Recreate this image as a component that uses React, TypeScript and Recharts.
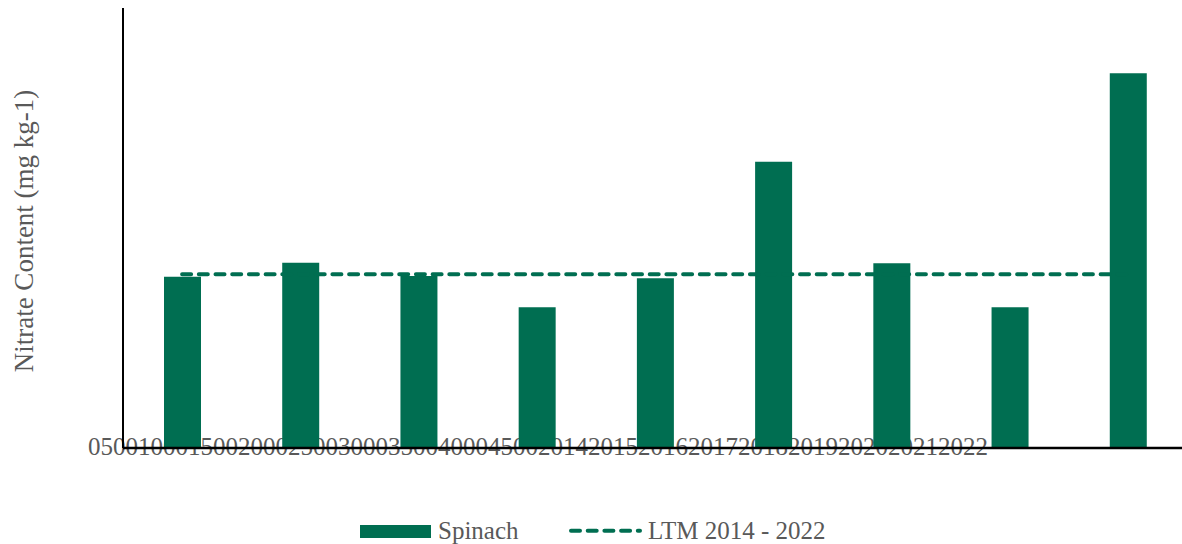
import React from 'react';
import { ComposedChart, Bar, Line, XAxis, YAxis, Customized } from 'recharts';

const years = ['2014', '2015', '2016', '2017', '2018', '2019', '2020', '2021', '2022'];
const spinachValues = [1752, 1895, 1759, 1439, 1736, 2928, 1889, 1439, 3832];
const ltmValues = [1777, 1777, 1777, 1777, 1777, 1777, 1777, 1777, 1777];
const yTickLabels = ['0', '500', '1000', '1500', '2000', '2500', '3000', '3500', '4000', '4500'];

const GREEN = '#006E51';
const GRAY = '#595959';
const FONT = '"Liberation Serif", "Times New Roman", serif';

const data = years.map((y, i) => ({ year: y, spinach: spinachValues[i], ltm: ltmValues[i] }));
const tickString = [...yTickLabels, ...years].join('');

const Overlay = () => (
  <g fontFamily={FONT}>
    <text x={80} y={447} fontSize={25} fill={GRAY}>{tickString}</text>
    <text x={25} y={223} fontSize={27} fill={GRAY} textAnchor="middle" transform="rotate(-90, 25, 223)">
      Nitrate Content (mg kg-1)
    </text>
    <rect x={352} y={517} width={71} height={13} fill={GREEN} />
    <text x={430} y={531} fontSize={25} fill={GRAY}>Spinach</text>
    <line x1={563} y1={522.7} x2={632} y2={522.7} stroke={GREEN} strokeWidth={4} strokeDasharray="9 7.7" strokeLinecap="round" />
    <text x={640} y={531} fontSize={25} fill={GRAY}>LTM 2014 - 2022</text>
  </g>
);

export default function App() {
  return (
    <div style={{ position: 'absolute', left: 0, top: 0, width: 1182, height: 544, overflow: 'hidden', background: '#fff' }}>
      <div style={{ position: 'absolute', left: 8, top: 8 }}>
        <ComposedChart width={1179} height={536} data={data} margin={{ top: 0, right: 0, bottom: 0, left: 0 }}>
          <XAxis dataKey="year" height={96} tick={false} tickLine={false} axisLine={{ stroke: '#000', strokeWidth: 2.5 }} />
          <YAxis width={115} domain={[0, 4500]} tick={false} tickLine={false} axisLine={{ stroke: '#000', strokeWidth: 2 }} />
          <Line dataKey="ltm" stroke={GREEN} strokeWidth={4} strokeDasharray="9 7.7" strokeLinecap="round" dot={false} activeDot={false} isAnimationActive={false} />
          <Bar dataKey="spinach" fill={GREEN} barSize={37} isAnimationActive={false} />
          <Customized component={<Overlay />} />
        </ComposedChart>
      </div>
    </div>
  );
}
